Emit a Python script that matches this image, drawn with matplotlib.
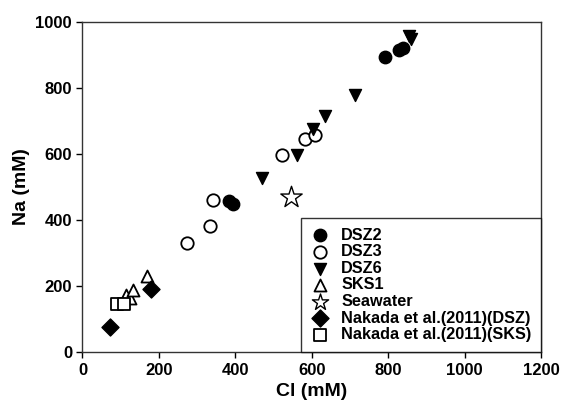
import matplotlib
matplotlib.use('Agg')
import matplotlib.pyplot as plt

plt.rcParams['font.family'] = ['Liberation Sans', 'DejaVu Sans']

# Cl (mM), Na (mM)
dsz2_cl = [383, 393, 792, 827, 839]
dsz2_na = [456, 449, 892, 914, 921]

dsz3_cl = [274, 334, 341, 522, 582, 608]
dsz3_na = [330, 383, 461, 595, 644, 657]

dsz6_cl = [469, 560, 604, 634, 713, 855, 860]
dsz6_na = [526, 597, 675, 715, 778, 957, 947]

sks1_cl = [113, 123, 133, 170]
sks1_na = [173, 165, 188, 229]

sea_cl = [545]
sea_na = [468]

nak_dsz_cl = [71, 180]
nak_dsz_na = [75, 192]

nak_sks_cl = [90, 109]
nak_sks_na = [145, 145]

fig = plt.figure(figsize=(5.65, 4.08), dpi=100)
ax = fig.add_axes([0.146, 0.137, 0.812, 0.810])

ax.scatter(dsz2_cl, dsz2_na, marker='o', s=80, c='black', edgecolors='black', label='DSZ2', zorder=3)
ax.scatter(dsz3_cl, dsz3_na, marker='o', s=80, facecolors='white', edgecolors='black', linewidths=1.3, label='DSZ3', zorder=3)
ax.scatter(dsz6_cl, dsz6_na, marker='v', s=75, c='black', edgecolors='black', label='DSZ6', zorder=3)
ax.scatter(sks1_cl, sks1_na, marker='^', s=75, facecolors='white', edgecolors='black', linewidths=1.3, label='SKS1', zorder=3)
ax.scatter(sea_cl, sea_na, marker='*', s=260, facecolors='white', edgecolors='black', linewidths=1.0, label='Seawater', zorder=3)
ax.scatter(nak_dsz_cl, nak_dsz_na, marker='D', s=75, c='black', edgecolors='black', label='Nakada et al.(2011)(DSZ)', zorder=3)
ax.scatter(nak_sks_cl, nak_sks_na, marker='s', s=75, facecolors='white', edgecolors='black', linewidths=1.3, label='Nakada et al.(2011)(SKS)', zorder=3)

ax.set_xlim(0, 1200)
ax.set_ylim(0, 1000)
ax.set_xticks(range(0, 1201, 200))
ax.set_yticks(range(0, 1001, 200))
ax.tick_params(direction='out', length=4, width=1, labelsize=12)
for t in ax.get_xticklabels() + ax.get_yticklabels():
    t.set_fontweight('bold')
for sp in ax.spines.values():
    sp.set_linewidth(1.0)
    sp.set_color('#333333')

ax.set_xlabel('Cl (mM)', fontsize=14, fontweight='bold', labelpad=4)
ax.set_ylabel('Na (mM)', fontsize=14, fontweight='bold', labelpad=4)

leg = ax.legend(loc='lower right', borderaxespad=0, frameon=True, fancybox=False,
                edgecolor='black', fontsize=11.7, handletextpad=0.7, labelspacing=0.1,
                borderpad=0.6, scatterpoints=1, handlelength=1.2)
leg.get_frame().set_linewidth(1.0)
for t in leg.get_texts():
    t.set_fontweight('bold')
leg.legend_handles[4].set_sizes([150])

fig.savefig('out.png', dpi=100)
